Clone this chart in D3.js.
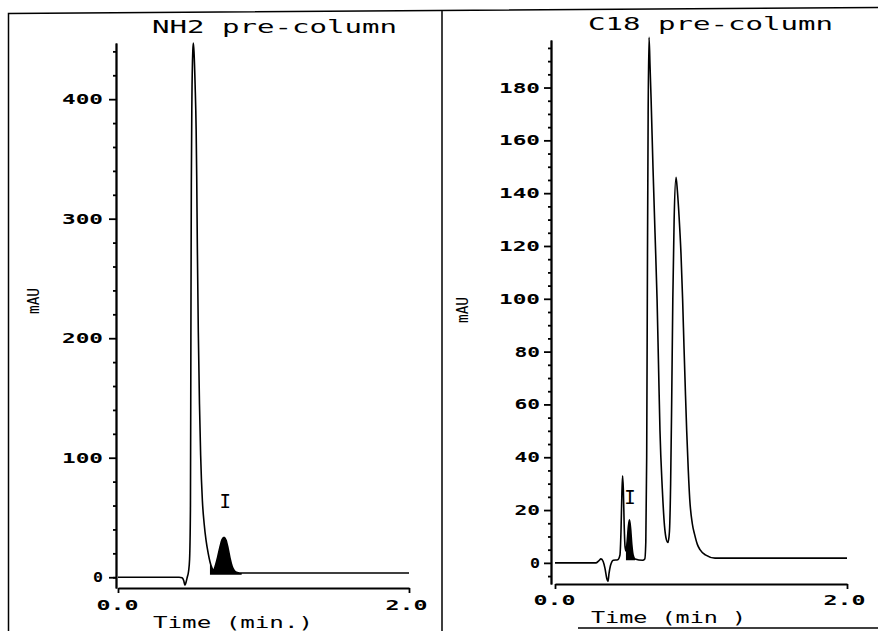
<!DOCTYPE html>
<html>
<head>
<meta charset="utf-8">
<script src="https://cdn.jsdelivr.net/npm/d3@7"></script>
<style>
  body { margin: 0; background: #fff; }
  svg { display: block; }
  text { font-family: "DejaVu Sans Mono", monospace; fill: #000; }
</style>
</head>
<body>
<div id="chart"></div>
<script>
// NH2 pre-column trace: time (min) and absorbance (mAU)
const nh2Time = [0.00, 0.30, 0.42, 0.44, 0.452, 0.46, 0.468, 0.476, 0.485, 0.492, 0.498, 0.501, 0.504, 0.508, 0.514, 0.518,
  0.523, 0.530, 0.537, 0.541, 0.545, 0.552, 0.560, 0.568, 0.580, 0.592, 0.605, 0.620, 0.632, 0.645, 0.655,
  0.670, 0.685, 0.700, 0.715, 0.729, 0.743, 0.757, 0.770, 0.785, 0.800, 0.820, 0.850, 1.000, 2.000];
const nh2MAU = [0, 0, 0, -0.5, -3, -6.7, -4, 0, 5, 15, 60, 200, 330, 400, 440, 447,
  438, 412, 375, 335, 280, 205, 145, 102, 64, 45, 31, 20, 13, 8, 6,
  10, 17, 25, 31.5, 33.5, 31, 24, 16, 9, 5.5, 4, 3.5, 3.5, 3.5];
const nh2PeakI = [0.632, 0.85];
const nh2LabelI = [0.737, 64];
const nh2YTicks = [0, 100, 200, 300, 400];
const nh2YMinor = [0, 20, 40, 60, 80, 120, 140, 160, 180, 220, 240, 260, 280, 320, 340, 360, 380, 420, 440];

// C18 pre-column trace
const c18Time = [0.00, 0.28, 0.30, 0.315, 0.33, 0.342, 0.355, 0.363, 0.370, 0.380, 0.390, 0.400, 0.430,
  0.445, 0.452, 0.458, 0.463, 0.468, 0.474, 0.480, 0.486, 0.494, 0.503, 0.510, 0.518, 0.526, 0.535, 0.548,
  0.600, 0.615, 0.622, 0.628, 0.633, 0.638, 0.644, 0.651, 0.658, 0.671, 0.685, 0.699, 0.709, 0.719, 0.735,
  0.750, 0.762, 0.774, 0.784, 0.792, 0.799, 0.807, 0.816, 0.829, 0.838, 0.850, 0.863, 0.874, 0.884, 0.893,
  0.902, 0.913, 0.923, 0.940, 0.957, 0.975, 0.993, 1.030, 1.096, 1.500, 2.000];
const c18MAU = [0, 0, 0.8, 1.5, 0.5, -2, -6, -7, -4, -1, 0.5, 1, 1.2,
  3, 12, 26, 33, 28, 14, 6, 4.5, 8, 14, 16.3, 13, 7, 3, 1.5,
  1, 1.5, 8, 40, 110, 170, 199, 188, 176, 150, 125, 100, 75, 50, 28,
  14, 9, 7.7, 12, 30, 60, 100, 130, 146, 141, 131, 117, 100, 81, 65,
  50, 35, 24, 15, 10.6, 7, 5, 3, 1.8, 1.8, 1.8];
const c18PeakI = [0.486, 0.548];
const c18LabelI = [0.514, 25];
const c18YTicks = [0, 20, 40, 60, 80, 100, 120, 140, 160, 180];
const c18YMinor = [-5, 5, 10, 15, 25, 30, 35, 45, 50, 55, 65, 70, 75, 85, 90, 95, 105, 110, 115, 125, 130, 135,
  145, 150, 155, 165, 170, 175, 185, 190, 195];

const xTicks = [0, 2];
const xTickLabels = ["0.0", "2.0"];

const width = 878, height = 631;
const svg = d3.select("#chart").append("svg")
  .attr("width", width)
  .attr("height", height);

// scanned page frame
svg.append("path")
  .attr("d", "M8.5,631 L8.5,13.5 L878,7.5 M442,631 L442,10 M578,628 L878,628")
  .attr("fill", "none")
  .attr("stroke", "#000")
  .attr("stroke-width", 1.5);

// width of plotter-style numbers
const numWidth = s => 10 + (s.length - 1) * 15.5;

function drawPanel(p) {
  const x = d3.scaleLinear().domain([0, 2]).range(p.xRange);
  const y = d3.scaleLinear().domain(p.yDomain).range(p.yRange);
  const g = svg.append("g");

  // y axis, major and minor ticks
  const yAxis = g.append("g")
    .attr("transform", `translate(${p.axisX},0)`)
    .call(d3.axisLeft(y).tickValues(p.yTicks).tickSize(7).tickSizeOuter(0).tickPadding(p.yPad));
  g.append("g")
    .attr("transform", `translate(${p.axisX},0)`)
    .call(d3.axisLeft(y).tickValues(p.yMinor).tickSize(3).tickSizeOuter(0).tickFormat(""));

  yAxis.selectAll("text")
    .attr("font-size", 14)
    .attr("font-weight", "bold")
    .attr("font-family", "DejaVu Sans Mono")
    .attr("textLength", function() { return numWidth(this.textContent); })
    .attr("lengthAdjust", "spacingAndGlyphs");

  // x axis with end ticks only
  const xAxis = g.append("g")
    .attr("transform", `translate(0,${p.yRange[0]})`)
    .call(d3.axisBottom(x).tickValues(xTicks).tickSize(5).tickSizeOuter(0).tickPadding(p.xPad)
      .tickFormat((d, i) => xTickLabels[i]));
  xAxis.selectAll("text")
    .attr("font-size", 14)
    .attr("font-weight", "bold")
    .attr("font-family", "DejaVu Sans Mono")
    .attr("dx", (d, i) => i === 0 ? -1 : -3)
    .attr("textLength", 42)
    .attr("lengthAdjust", "spacingAndGlyphs");

  g.selectAll(".domain, .tick line")
    .attr("stroke", "#000")
    .attr("stroke-width", 1.8);

  const pts = p.time.map((t, i) => [t, p.mau[i]]);

  // filled peak I
  const peakPts = pts.filter(d => d[0] >= p.peak[0] && d[0] <= p.peak[1]);
  g.append("path")
    .datum(peakPts)
    .attr("fill", "#000")
    .attr("d", d3.area()
      .curve(d3.curveMonotoneX)
      .x(d => x(d[0]))
      .y0(y(p.peakBase))
      .y1(d => y(d[1])));

  g.append("path")
    .datum(pts)
    .attr("fill", "none")
    .attr("stroke", "#000")
    .attr("stroke-width", 1.6)
    .attr("d", d3.line()
      .curve(d3.curveMonotoneX)
      .x(d => x(d[0]))
      .y(d => y(d[1])));

  g.append("text")
    .attr("x", x(p.label[0]))
    .attr("y", y(p.label[1]))
    .attr("dy", "0.36em")
    .attr("text-anchor", "middle")
    .attr("font-size", 19)
    .text("I");

  // titles and axis labels
  g.append("text")
    .attr("x", p.title.x)
    .attr("y", p.title.y)
    .attr("font-size", 17)
    .attr("textLength", 245)
    .attr("lengthAdjust", "spacingAndGlyphs")
    .text(p.title.text);

  g.append("text")
    .attr("x", p.xLabel.x)
    .attr("y", p.xLabel.y)
    .attr("font-size", 15)
    .attr("textLength", p.xLabel.w)
    .attr("lengthAdjust", "spacingAndGlyphs")
    .text(p.xLabel.text);

  g.append("text")
    .attr("transform", `translate(${p.yLabel.x},${p.yLabel.y}) rotate(-90)`)
    .attr("text-anchor", "middle")
    .attr("font-size", 15)
    .attr("textLength", 26)
    .attr("lengthAdjust", "spacingAndGlyphs")
    .text("mAU");
}

drawPanel({
  time: nh2Time, mau: nh2MAU, peak: nh2PeakI, peakBase: 2, label: nh2LabelI,
  yTicks: nh2YTicks, yMinor: nh2YMinor,
  xRange: [118, 409], yDomain: [-9, 447], yRange: [588, 43], axisX: 116, yPad: 6, xPad: 7,
  title: {text: "NH2 pre-column", x: 152, y: 33},
  xLabel: {text: "Time (min.)", x: 153, y: 628, w: 160},
  yLabel: {x: 39, y: 301}
});

drawPanel({
  time: c18Time, mau: c18MAU, peak: c18PeakI, peakBase: 1, label: c18LabelI,
  yTicks: c18YTicks, yMinor: c18YMinor,
  xRange: [555, 847], yDomain: [-8, 198], yRange: [584, 40], axisX: 551, yPad: 4, xPad: 6,
  title: {text: "C18 pre-column", x: 588, y: 30},
  xLabel: {text: "Time (min )", x: 591, y: 623, w: 155},
  yLabel: {x: 468, y: 310}
});
</script>
</body>
</html>
